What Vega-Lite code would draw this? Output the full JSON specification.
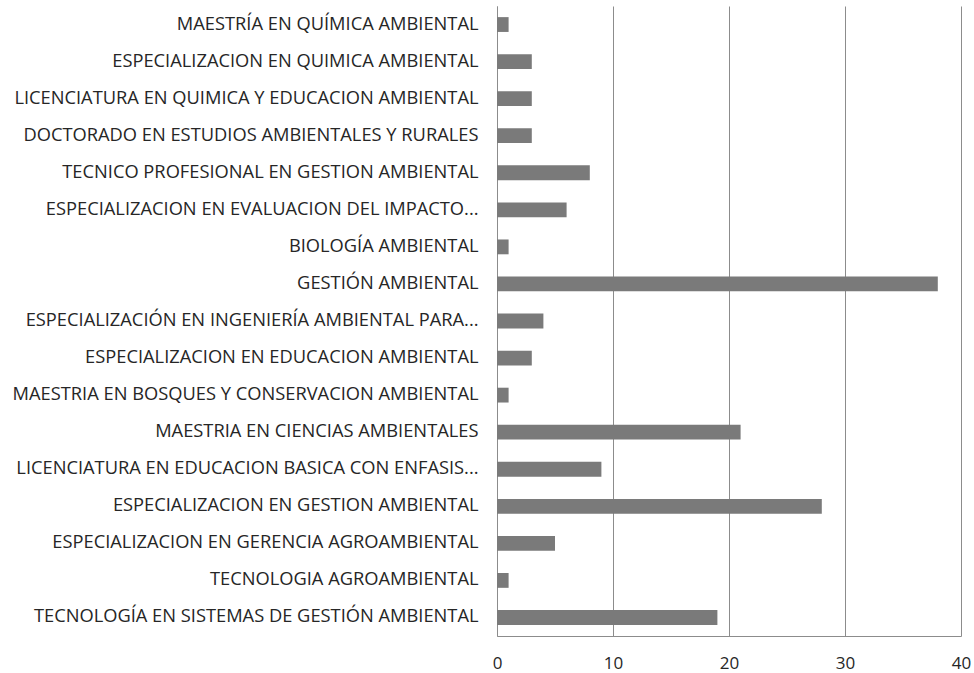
{
  "$schema": "https://vega.github.io/schema/vega-lite/v6.json",
  "autosize": "none",
  "width": 464,
  "height": 630,
  "padding": {"left": 497, "top": 6, "right": 13, "bottom": 37},
  "background": "white",
  "view": {"stroke": null},
  "data": {
    "values": [
      {"programa": "MAESTRÍA EN QUÍMICA AMBIENTAL", "n": 1},
      {"programa": "ESPECIALIZACION EN QUIMICA AMBIENTAL", "n": 3},
      {"programa": "LICENCIATURA EN QUIMICA Y EDUCACION AMBIENTAL", "n": 3},
      {"programa": "DOCTORADO EN ESTUDIOS AMBIENTALES Y RURALES", "n": 3},
      {"programa": "TECNICO PROFESIONAL EN GESTION AMBIENTAL", "n": 8},
      {"programa": "ESPECIALIZACION EN EVALUACION DEL IMPACTO...", "n": 6},
      {"programa": "BIOLOGÍA AMBIENTAL", "n": 1},
      {"programa": "GESTIÓN AMBIENTAL", "n": 38},
      {"programa": "ESPECIALIZACIÓN EN INGENIERÍA AMBIENTAL PARA...", "n": 4},
      {"programa": "ESPECIALIZACION EN EDUCACION AMBIENTAL", "n": 3},
      {"programa": "MAESTRIA EN BOSQUES Y CONSERVACION AMBIENTAL", "n": 1},
      {"programa": "MAESTRIA EN CIENCIAS AMBIENTALES", "n": 21},
      {"programa": "LICENCIATURA EN EDUCACION BASICA CON ENFASIS...", "n": 9},
      {"programa": "ESPECIALIZACION EN GESTION AMBIENTAL", "n": 28},
      {"programa": "ESPECIALIZACION EN GERENCIA AGROAMBIENTAL", "n": 5},
      {"programa": "TECNOLOGIA AGROAMBIENTAL", "n": 1},
      {"programa": "TECNOLOGÍA EN SISTEMAS DE GESTIÓN AMBIENTAL", "n": 19}
    ]
  },
  "mark": {"type": "bar", "color": "#7a7a7a"},
  "encoding": {
    "y": {
      "field": "programa",
      "type": "nominal",
      "sort": null,
      "title": null,
      "scale": {"paddingInner": 0.6, "paddingOuter": 0.3},
      "axis": {
        "domainColor": "#8c8c8c",
        "ticks": false,
        "labelPadding": 19,
        "labelLimit": 0,
        "labelFont": "Open Sans",
        "labelFontSize": 18.3,
        "labelColor": "#262626"
      }
    },
    "x": {
      "field": "n",
      "type": "quantitative",
      "title": null,
      "scale": {"domain": [0, 40], "nice": false},
      "axis": {
        "values": [0, 10, 20, 30, 40],
        "domainColor": "#8c8c8c",
        "gridColor": "#8c8c8c",
        "ticks": false,
        "labelPadding": 19,
        "labelFont": "Open Sans",
        "labelFontSize": 17,
        "labelColor": "#262626",
        "labelFlush": false
      }
    }
  }
}
